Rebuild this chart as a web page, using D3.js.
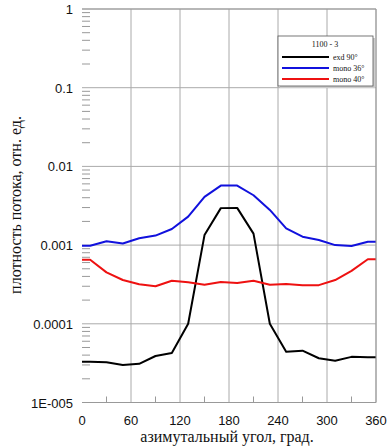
<!DOCTYPE html>
<html lang="ru">
<head>
<meta charset="UTF-8">
<title>Плотность потока</title>
<script src="https://d3js.org/d3.v7.min.js"></script>
<style>
  body { margin: 0; background: #fff; }
  svg text { fill: #111; }
  .tick-lab { font-family: "Liberation Sans", Arial, sans-serif; font-size: 13px; }
  .axis-title { font-family: "Liberation Serif", "Times New Roman", serif; font-size: 16px; }
  .leg { font-family: "Liberation Serif", "Times New Roman", serif; font-size: 8px; }
</style>
</head>
<body>
<div id="chart"></div>
<script>
// angles, degrees
var angles = [0, 10, 30, 50, 70, 90, 110, 130, 150, 170, 190, 210, 230, 250, 270, 290, 310, 330, 350, 360];
// exd 90°
var exd90 = [3.3e-5, 3.3e-5, 3.24e-5, 3.0e-5, 3.1e-5, 3.9e-5, 4.25e-5, 1.0e-4, 1.34e-3, 2.95e-3,
             2.97e-3, 1.4e-3, 1.0e-4, 4.4e-5, 4.55e-5, 3.65e-5, 3.4e-5, 3.8e-5, 3.75e-5, 3.75e-5];
// mono 36°
var mono36 = [9.8e-4, 9.8e-4, 1.12e-3, 1.05e-3, 1.22e-3, 1.32e-3, 1.6e-3, 2.3e-3, 4.1e-3, 5.7e-3,
              5.7e-3, 4.3e-3, 2.8e-3, 1.63e-3, 1.28e-3, 1.16e-3, 1.0e-3, 9.75e-4, 1.1e-3, 1.1e-3];
// mono 40°
var mono40 = [6.5e-4, 6.5e-4, 4.5e-4, 3.6e-4, 3.18e-4, 3.0e-4, 3.53e-4, 3.37e-4, 3.14e-4, 3.4e-4,
              3.3e-4, 3.53e-4, 3.14e-4, 3.2e-4, 3.1e-4, 3.1e-4, 3.6e-4, 4.7e-4, 6.6e-4, 6.6e-4];

var seriesNames = ["exd 90°", "mono 36°", "mono 40°"];
var seriesColors = ["#000000", "#1111dd", "#ee1111"];
var legendTitle = "1100 - 3";

var xTicks = [0, 60, 120, 180, 240, 300, 360];
var yTicks = [1e-5, 1e-4, 1e-3, 1e-2, 1e-1, 1];
var yTickLabels = ["1E-005", "0.0001", "0.001", "0.01", "0.1", "1"];

var w = 388, h = 447;
var mLeft = 82, mRight = 376, mTop = 9, mBottom = 402.5;

var svg = d3.select("#chart").append("svg")
    .attr("width", w).attr("height", h);

var x = d3.scaleLinear().domain([0, 360]).range([mLeft, mRight]);
var y = d3.scaleLog().domain([1e-5, 1]).range([mBottom, mTop]);

// minor y ticks (2..9 in each decade)
var minor = [];
yTicks.slice(0, -1).forEach(function(d) {
  for (var k = 2; k <= 9; k++) minor.push(d * k);
});
svg.append("g").selectAll("line").data(minor).enter().append("line")
    .attr("x1", mLeft).attr("x2", mLeft + 8)
    .attr("y1", function(d) { return y(d); }).attr("y2", function(d) { return y(d); })
    .attr("stroke", "#999").attr("stroke-width", 1);

// horizontal grid
svg.append("g").selectAll("line").data(yTicks).enter().append("line")
    .attr("x1", mLeft).attr("x2", mRight)
    .attr("y1", function(d) { return y(d); }).attr("y2", function(d) { return y(d); })
    .attr("stroke", "#aaa").attr("stroke-width", 1);

// vertical grid
svg.append("g").selectAll("line").data(xTicks.slice(1)).enter().append("line")
    .attr("x1", function(d) { return x(d); }).attr("x2", function(d) { return x(d); })
    .attr("y1", mTop).attr("y2", mBottom)
    .attr("stroke", "#aaa").attr("stroke-width", 1);

// minor x ticks every 30
var xMinor = d3.range(30, 360, 60);
svg.append("g").selectAll("line").data(xMinor).enter().append("line")
    .attr("x1", function(d) { return x(d); }).attr("x2", function(d) { return x(d); })
    .attr("y1", mBottom).attr("y2", mBottom - 6)
    .attr("stroke", "#999").attr("stroke-width", 1);

// tick labels
svg.append("g").selectAll("text").data(yTicks).enter().append("text")
    .attr("class", "tick-lab")
    .attr("x", mLeft - 9).attr("y", function(d) { return y(d) + 5; })
    .attr("text-anchor", "end")
    .text(function(d, i) { return yTickLabels[i]; });

svg.append("g").selectAll("text").data(xTicks).enter().append("text")
    .attr("class", "tick-lab")
    .attr("x", function(d) { return x(d); }).attr("y", mBottom + 22)
    .attr("text-anchor", "middle")
    .text(function(d) { return d; });

// axis titles
svg.append("text").attr("class", "axis-title")
    .attr("x", 227).attr("y", 442)
    .attr("text-anchor", "middle")
    .text("азимутальный угол, град.");

svg.append("text").attr("class", "axis-title")
    .attr("transform", "translate(21,205) rotate(-90)")
    .attr("text-anchor", "middle")
    .text("плотность потока, отн. ед.");

// lines
var line = d3.line()
    .x(function(d) { return x(d[0]); })
    .y(function(d) { return y(d[1]); });

[exd90, mono36, mono40].forEach(function(vals, i) {
  svg.append("path")
      .datum(angles.map(function(a, j) { return [a, vals[j]]; }))
      .attr("d", line)
      .attr("fill", "none")
      .attr("stroke", seriesColors[i])
      .attr("stroke-width", 2)
      .attr("stroke-linejoin", "round");
});

// legend
var lg = svg.append("g").attr("transform", "translate(278,36)");
lg.append("rect").attr("x", 2).attr("y", 2).attr("width", 95).attr("height", 50)
    .attr("fill", "#ccc");
lg.append("rect").attr("x", 0).attr("y", 0).attr("width", 95).attr("height", 50)
    .attr("fill", "#fff").attr("stroke", "#555").attr("stroke-width", 0.8);
lg.append("text").attr("class", "leg").attr("x", 47).attr("y", 11)
    .attr("text-anchor", "middle").text(legendTitle);
seriesNames.forEach(function(n, i) {
  var yy = 21 + i * 11;
  lg.append("line").attr("x1", 4).attr("x2", 51).attr("y1", yy).attr("y2", yy)
      .attr("stroke", seriesColors[i]).attr("stroke-width", 2);
  lg.append("text").attr("class", "leg").attr("x", 55).attr("y", yy + 3).text(n);
});

// frame: top, right, bottom
svg.append("path")
    .attr("d", "M" + mLeft + "," + mTop + "H" + mRight + "V" + mBottom + "H" + mLeft)
    .attr("fill", "none").attr("stroke", "#999").attr("stroke-width", 1);
</script>
</body>
</html>
